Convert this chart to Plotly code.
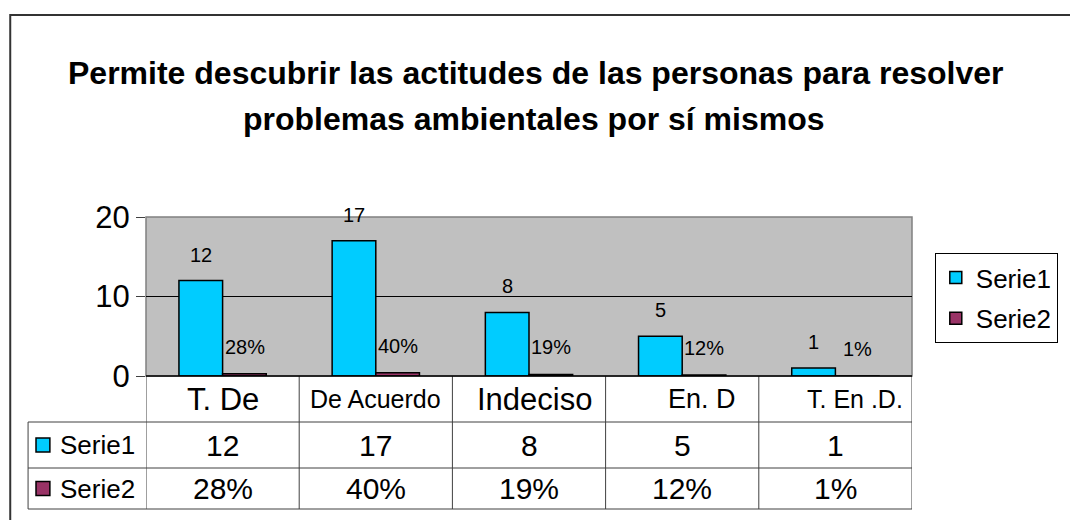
import plotly.graph_objects as go

# ---------------- data ----------------
categories = ["T. De", "De Acuerdo", "Indeciso", "En. D", "T. En .D."]
serie1 = [12, 17, 8, 5, 1]
serie2 = [0.28, 0.40, 0.19, 0.12, 0.01]
series_names = ["Serie1", "Serie2"]
title_lines = ["Permite descubrir las actitudes de las personas para resolver",
               "problemas ambientales por sí mismos"]
y_ticks = [0, 10, 20]

# ---------------- style ----------------
FONT = "Arial, Liberation Sans, sans-serif"
C1, C2 = "#00CCFF", "#993366"
W, H = 1070, 520
L, R, T, B = 146, 919, 217, 376          # plot area in px
header_sizes = [31, 25, 31, 27, 25]
header_shift = [0, 0, 5, 20, 20]


def px(x):
    return (x - L) / (R - L)


def py(y):
    return (B - y) / (B - T)


fig = go.Figure()
fig.add_trace(go.Bar(x=categories, y=serie1, name=series_names[0], legendgroup="a",
                     marker=dict(color=C1, line=dict(color="black", width=1.5))))
fig.add_trace(go.Bar(x=categories, y=serie2, name=series_names[1], legendgroup="b",
                     marker=dict(color=C2, line=dict(color="black", width=1.5))))

annotations = []
shapes = []

# data labels
for i, c in enumerate(categories):
    annotations.append(dict(x=c, y=serie1[i], xref="x", yref="y", text=str(serie1[i]),
                            showarrow=False, xshift=-22, yshift=26, yanchor="middle",
                            font=dict(size=20, color="black", family=FONT)))
    annotations.append(dict(x=c, y=serie2[i], xref="x", yref="y", text=f"{serie2[i]:.0%}",
                            showarrow=False, xshift=22, yshift=27, yanchor="middle",
                            font=dict(size=20, color="black", family=FONT)))

# title
annotations.append(dict(x=px(540), y=py(73), xref="paper", yref="paper", text="<b>" + title_lines[0] + "</b>",
                        showarrow=False, xanchor="center", yanchor="middle",
                        font=dict(size=32, color="black", family=FONT)))
annotations.append(dict(x=px(538), y=py(119), xref="paper", yref="paper", text="<b>" + title_lines[1] + "</b>",
                        showarrow=False, xanchor="center", yanchor="middle",
                        font=dict(size=32, color="black", family=FONT)))

# data table
TBL = "#404040"
row_y = [376, 422, 468, 509]
for yy in row_y[1:]:
    shapes.append(dict(type="line", xref="paper", yref="paper", x0=px(27), x1=1, y0=py(yy), y1=py(yy),
                       line=dict(color=TBL, width=1)))
for k in range(len(categories) + 1):
    shapes.append(dict(type="line", xref="x", yref="paper", x0=k - 0.5, x1=k - 0.5,
                       y0=0, y1=py(row_y[-1]), line=dict(color=TBL, width=1)))
shapes.append(dict(type="line", xref="paper", yref="paper", x0=px(27), x1=px(27),
                   y0=py(row_y[1]), y1=py(row_y[-1]), line=dict(color=TBL, width=1)))

for i, c in enumerate(categories):
    annotations.append(dict(x=c, y=py((row_y[0] + row_y[1]) / 2), xref="x", yref="paper", text=c,
                            showarrow=False, xshift=header_shift[i], yanchor="middle",
                            font=dict(size=header_sizes[i], color="black", family=FONT)))
    annotations.append(dict(x=c, y=py((row_y[1] + row_y[2]) / 2), xref="x", yref="paper", text=str(serie1[i]),
                            showarrow=False, yanchor="middle",
                            font=dict(size=30, color="black", family=FONT)))
    annotations.append(dict(x=c, y=py((row_y[2] + row_y[3]) / 2), xref="x", yref="paper", text=f"{serie2[i]:.0%}",
                            showarrow=False, yanchor="middle",
                            font=dict(size=30, color="black", family=FONT)))

for j, (name, col) in enumerate(zip(series_names, [C1, C2])):
    cy = (row_y[j + 1] + row_y[j + 2]) / 2
    shapes.append(dict(type="rect", xref="paper", yref="paper", x0=px(35), x1=px(49),
                       y0=py(cy + 7), y1=py(cy - 7), fillcolor=col, line=dict(color="black", width=1.5)))
    annotations.append(dict(x=px(57), y=py(cy), xref="paper", yref="paper", text=name,
                            showarrow=False, xanchor="left", yanchor="middle",
                            font=dict(size=26, color="black", family=FONT)))

# plot border and outer chart border
shapes.append(dict(type="rect", xref="paper", yref="paper", x0=0, x1=1, y0=0, y1=1,
                   line=dict(color="#808080", width=1.5), layer="below"))
shapes.append(dict(type="line", xref="paper", yref="paper", x0=0, x1=1, y0=0, y1=0,
                   line=dict(color="black", width=1.5)))
shapes.append(dict(type="rect", xref="paper", yref="paper", x0=px(9), x1=px(1085),
                   y0=py(535), y1=py(15), line=dict(color="#333333", width=2)))

fig.update_layout(
    width=W, height=H,
    margin=dict(l=L, r=W - R, t=T, b=H - B, pad=0),
    paper_bgcolor="white", plot_bgcolor="#C0C0C0",
    barmode="group", bargap=0.43, bargroupgap=0,
    font=dict(family=FONT, color="black"),
    showlegend=True,
    legend=dict(x=px(942), y=py(253), xanchor="left", yanchor="top",
                bgcolor="white", bordercolor="black", borderwidth=1,
                font=dict(size=26, family=FONT), tracegroupgap=4,
                itemwidth=30),
    annotations=annotations, shapes=shapes,
)
fig.update_xaxes(type="category", range=[-0.5, len(categories) - 0.5], showticklabels=False,
                 showgrid=False, zeroline=False, showline=False, ticks="", fixedrange=True)
fig.update_yaxes(range=[0, 20], tickvals=y_ticks, ticks="outside", ticklen=9, tickcolor="#404040",
                 tickfont=dict(size=31, family=FONT), showgrid=True, gridcolor="black", gridwidth=1,
                 zeroline=False, showline=False, fixedrange=True)

fig.write_html("out.html", config={"displayModeBar": False},
               post_script="document.body.style.margin='0';document.body.style.overflow='hidden';")
